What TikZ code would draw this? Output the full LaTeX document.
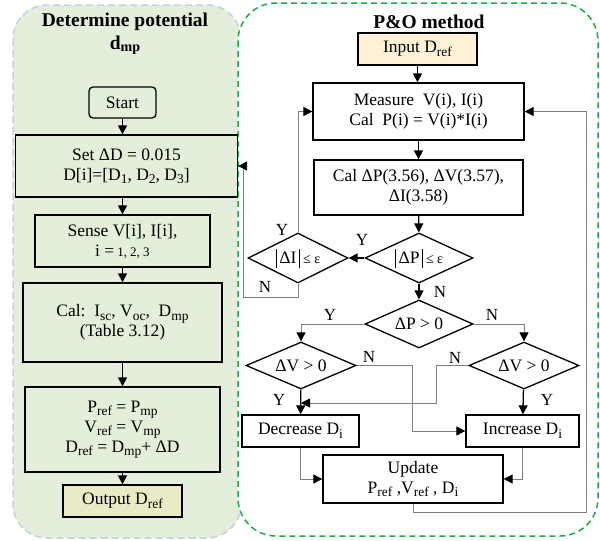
\documentclass[tikz,border=0pt]{standalone}
\usepackage{fontspec}
\setmainfont{Liberation Serif}
\usetikzlibrary{shapes.geometric,arrows.meta}
\definecolor{panelgreen}{HTML}{E3EFDA}
\definecolor{panelgray}{HTML}{C8CEDF}
\definecolor{dashgreen}{HTML}{1AAE4E}
\definecolor{inputfill}{HTML}{FDF1D6}
\definecolor{outfill}{HTML}{EAEBC4}
\definecolor{linegray}{HTML}{7F7F7F}
\newcommand{\sub}[1]{\raisebox{-3.5pt}{\fontsize{13.5}{15}\selectfont #1}}
\newcommand{\vbar}{\rule[-4pt]{0.7pt}{19pt}}

\begin{document}
\begin{tikzpicture}[x=1pt,y=-1pt,
  box/.style={draw,line width=1.3pt,inner sep=1pt,align=center,
    font=\fontsize{17.5}{20}\selectfont},
  dia/.style={draw,diamond,line width=1.3pt,inner sep=0pt,
    font=\fontsize{17.5}{20}\selectfont},
  title/.style={font=\fontsize{19.5}{22}\selectfont\bfseries},
  lbl/.style={font=\fontsize{17}{19}\selectfont},
  arr/.style={-{Triangle[length=9pt,width=9pt]},line width=1.3pt},
  fb/.style={-{Triangle[length=9pt,width=9pt,color=black]},draw=linegray,line width=0.9pt}]
\useasboundingbox (0,0) rectangle (600,541);
% panels
\draw[fill=panelgreen,draw=panelgray,dash pattern=on 7pt off 4pt,line width=1.5pt,
  rounded corners=34pt] (13,5) rectangle (241,538);
\draw[fill=white,draw=dashgreen,dash pattern=on 6pt off 4pt,line width=1.5pt,
  rounded corners=38pt] (238,3) rectangle (598,536);
\node[title] (ttl) at (125,22) {Determine potential};
\node[title] (ttlb) at (125,45) {d{\fontsize{14}{16}\selectfont\raisebox{-2pt}{mp}}};
\node[title] (ttr) at (429,22) {P\&O method};

% left column
\node[box,rounded corners=4pt,minimum width=67pt,minimum height=31pt] (start) at (122.5,102.5) {Start};
\node[box,minimum width=222pt,minimum height=62pt] (set) at (126.5,166)
  {Set ΔD = 0.015\\D[i]=[D\sub{1}, D\sub{2}, D\sub{3}]};
\node[box,minimum width=175pt,minimum height=52pt] (sense) at (122.5,241)
  {Sense V[i], I[i],\\i =\,{\fontsize{13}{15}\selectfont 1, 2, 3}};
\node[box,minimum width=199pt,minimum height=79pt] (cal) at (122.5,322.5)
  {Cal:\ \ I\sub{sc}, V\sub{oc},\ \ D\sub{mp}\\(Table 3.12)};
\node[box,minimum width=195pt,minimum height=85pt] (pref) at (122.5,429.5)
  {P\sub{ref} = P\sub{mp}\\V\sub{ref} = V\sub{mp}\\D\sub{ref} = D\sub{mp}+ ΔD};
\node[box,fill=outfill,minimum width=119pt,minimum height=32pt] (out) at (122.5,501)
  {Output D\sub{ref}};
\draw[arr] (start) -- (set.north -| start);
\draw[arr] (set.south -| start) -- (sense);
\draw[arr] (sense) -- (cal);
\draw[arr] (cal) -- (pref);
\draw[arr] (pref) -- (out);

% right column
\node[box,fill=inputfill,minimum width=119pt,minimum height=32pt] (input) at (417.5,49)
  {Input D\sub{ref}};
\node[box,minimum width=211pt,minimum height=57pt] (meas) at (418.5,111.5)
  {Measure\ \ V(i), I(i)\\Cal\ \ P(i) = V(i)*I(i)};
\node[box,minimum width=209pt,minimum height=55pt] (calc) at (418.5,187.5)
  {Cal ΔP(3.56), ΔV(3.57),\\ΔI(3.58)};
\node[dia,minimum width=108pt,minimum height=50pt] (dp) at (419,258)
  {\makebox[0pt]{\vbar\,ΔP\,\vbar\,{\fontsize{14}{15}\selectfont≤ ε}}};
\node[dia,minimum width=100pt,minimum height=50pt] (di) at (298,258)
  {\makebox[0pt]{\vbar\,ΔI\,\vbar\,{\fontsize{14}{15}\selectfont≤ ε}}};
\node[dia,minimum width=108pt,minimum height=48pt] (dpp) at (419,324)
  {\makebox[0pt]{ΔP > 0}};
\node[dia,minimum width=110pt,minimum height=47pt] (dvl) at (301,365.5)
  {\makebox[0pt]{ΔV > 0}};
\node[dia,minimum width=110pt,minimum height=47pt] (dvr) at (524,365.5)
  {\makebox[0pt]{ΔV > 0}};
\node[box,minimum width=117pt,minimum height=32pt] (dec) at (300.5,431) {Decrease D\sub{i}};
\node[box,minimum width=113pt,minimum height=32pt] (inc) at (522.5,431) {Increase D\sub{i}};
\node[box,minimum width=180pt,minimum height=48pt] (upd) at (413,479)
  {Update\\P\sub{ref} ,V\sub{ref} , D\sub{i}};
\coordinate (nl) at (243,297);
\coordinate (mj) at (301,403);
\coordinate (rr) at (586,512);

\draw[arr] (input) -- (input |- meas.north);
\draw[arr] (meas) -- (calc);
\draw[arr] (calc) -- (dp);
\draw[arr] (dp) -- (di);
\draw[fb] (di.north) |- (meas.west);
\draw[fb] (di.south) |- (nl) |- (set.east);
\draw[arr] (dp) -- (dpp);
\draw[fb] (dpp.west) -| (dvl.north);
\draw[fb] (dpp.east) -| (dvr.north);
\draw[fb] (dvl.east) -- ++(56,0) |- (inc.west);
\draw[fb] (dvr.west) -- ++(-32,0) |- (mj);
\draw[arr] (dvl) -- (dec);
\draw[arr] (dvr) -- (inc);
\draw[fb] (dec.south) |- (upd.west);
\draw[fb] (inc.south) |- (upd.east);
\draw[fb] (upd.south) |- (rr) |- (meas.east);

% branch labels
\node[lbl] (ly1) at (362,240) {Y};
\node[lbl] (ly2) at (282,230) {Y};
\node[lbl] (ln1) at (265,287) {N};
\node[lbl] (ln2) at (440,292) {N};
\node[lbl] (ly3) at (330,315) {Y};
\node[lbl] (ln3) at (492,315) {N};
\node[lbl] (ln4) at (369,357) {N};
\node[lbl] (ln5) at (455,358) {N};
\node[lbl] (ly4) at (279,400) {Y};
\node[lbl] (ly5) at (547,400) {Y};
\end{tikzpicture}
\end{document}
